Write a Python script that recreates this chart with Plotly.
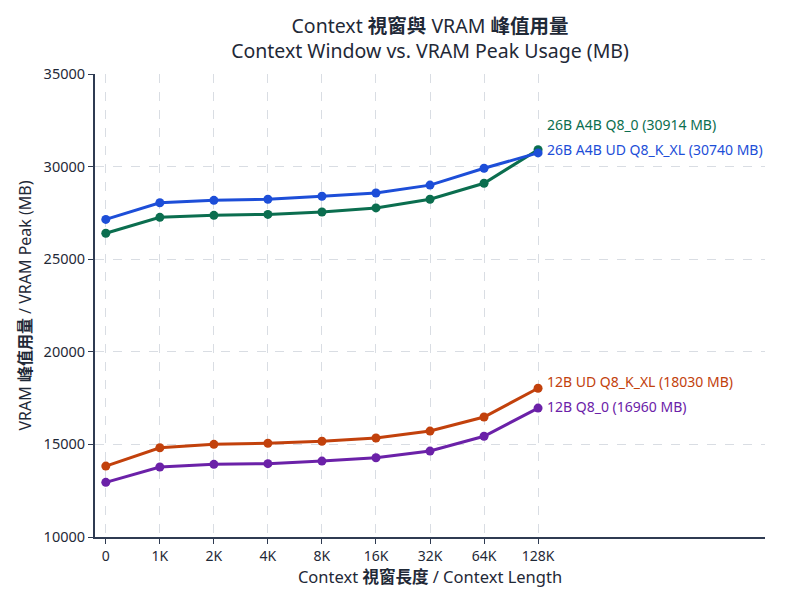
import plotly.graph_objects as go

contexts = ["0", "1K", "2K", "4K", "8K", "16K", "32K", "64K", "128K"]
s26_q8 = [26400, 27260, 27370, 27420, 27550, 27770, 28235, 29100, 30914]
s26_ud = [27150, 28050, 28180, 28235, 28400, 28575, 29000, 29910, 30740]
s12_ud = [13830, 14820, 15005, 15060, 15170, 15345, 15720, 16480, 18030]
s12_q8 = [12950, 13780, 13925, 13960, 14100, 14280, 14640, 15440, 16960]

names = ["26B A4B Q8_0", "26B A4B UD Q8_K_XL", "12B UD Q8_K_XL", "12B Q8_0"]
series = [s26_q8, s26_ud, s12_ud, s12_q8]
colors = ["#0b6e4f", "#1d4ed8", "#c2410c", "#6b21a8"]
label_shift = [25, 3, 7, 2]

FONT = "Noto Sans, Noto Sans CJK TC, sans-serif"

fig = go.Figure()
xi = list(range(len(contexts)))
for name, vals, col in zip(names, series, colors):
    fig.add_trace(go.Scatter(
        x=xi, y=vals, mode="lines+markers", name=name,
        line=dict(color=col, width=3),
        marker=dict(color=col, size=9),
    ))

for name, vals, col, sh in zip(names, series, colors, label_shift):
    fig.add_annotation(
        x=xi[-1], y=vals[-1], xref="x", yref="y",
        text=f"{name} ({vals[-1]} MB)", showarrow=False,
        xanchor="left", yanchor="middle", xshift=7, yshift=sh,
        font=dict(size=14, color=col, family=FONT),
    )

axis_col = "#2f3b52"
fig.update_layout(
    width=800, height=600,
    margin=dict(l=95, r=35, t=74, b=63),
    paper_bgcolor="white", plot_bgcolor="white",
    showlegend=False,
    font=dict(family=FONT, color="#1f2937", size=14),
    title=dict(
        text="Context <b>視窗與</b> VRAM <b>峰值用量</b><br>Context Window vs. VRAM Peak Usage (MB)",
        x=0.5, xanchor="center", xref="paper",
        yref="container", y=1 - 33 / 600, yanchor="middle",
        font=dict(size=19.5, color="#1f2937", family=FONT),
    ),
    xaxis=dict(
        range=[-0.2, 12.2],
        tickmode="array", tickvals=xi, ticktext=contexts,
        showgrid=True, gridcolor="#d9dde3", griddash="dash", gridwidth=1,
        showline=True, linecolor=axis_col, linewidth=2,
        ticks="outside", ticklen=5, tickcolor=axis_col,
        zeroline=False,
        title=dict(text="Context <b>視窗長度</b> / Context Length", font=dict(size=16.5), standoff=6),
        tickfont=dict(size=14),
    ),
    yaxis=dict(
        range=[10000, 35000], dtick=5000, tickformat="d",
        showgrid=True, gridcolor="#d9dde3", griddash="dash", gridwidth=1,
        showline=True, linecolor=axis_col, linewidth=2,
        ticks="outside", ticklen=5, tickcolor=axis_col,
        zeroline=False,
        title=dict(text="VRAM <b>峰值用量</b> / VRAM Peak (MB)", font=dict(size=16), standoff=8),
        tickfont=dict(size=14.5),
    ),
)

fig.write_html("out.html")
